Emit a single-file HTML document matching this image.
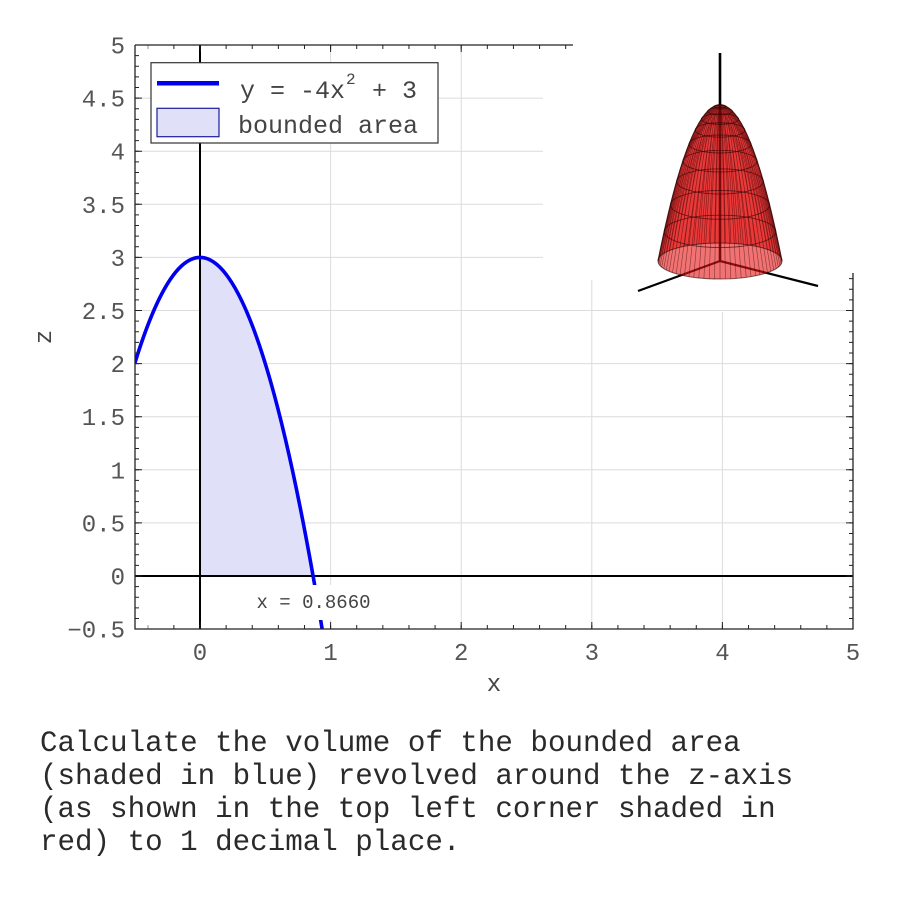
<!DOCTYPE html>
<html><head><meta charset="utf-8"><style>
html,body{margin:0;padding:0;background:#fff;}
svg{display:block;}
text{font-family:"Liberation Mono","DejaVu Sans Mono",monospace;}
</style></head><body>
<svg width="900" height="900" viewBox="0 0 900 900" xmlns="http://www.w3.org/2000/svg">
<rect width="900" height="900" fill="#fff"/>
<!-- gridlines -->
<g stroke="#dcdcdc" stroke-width="1" fill="none">
<path d="M135,98.1H543M135,151.2H543M135,204.3H543M135,257.4H543"/>
<path d="M135,310.5H853M135,363.6H853M135,416.7H853M135,469.8H853M135,522.9H853"/>
<path d="M330.6,45V629M461.2,45V629M591.8,280V629M722.4,312V629"/>
</g>
<!-- fill -->
<path d="M200,576 L200,257.4 Q256.55,257.4 313.1,576 Z" fill="#e0e0f8"/>
<!-- zero lines -->
<path d="M135,576H853M200,45V629" stroke="#000" stroke-width="2" fill="none"/>
<!-- curve -->
<defs><clipPath id="pc"><rect x="135" y="45" width="718" height="584"/></clipPath></defs>
<path d="M134.7,363.6 Q228.4,58.8 322.1,628.8" stroke="#0000ee" stroke-width="3.6" fill="none" clip-path="url(#pc)"/>
<!-- annotation -->
<rect x="252" y="585" width="123" height="35" fill="#fff"/>
<text x="313.5" y="608" font-size="19" fill="#444" text-anchor="middle">x = 0.8660</text>
<!-- spines -->
<g stroke="#222" stroke-width="1.3" fill="none">
<path d="M135,45V629H853V273"/>
<path d="M135,45H573"/>
</g>
<!-- ticks -->
<g stroke="#222" fill="none">
<line x1="147.76" y1="627" x2="853" y2="627" stroke-width="4" stroke-dasharray="1 25.12" stroke-dashoffset="0.5"/>
<line x1="200" y1="625.5" x2="853" y2="625.5" stroke-width="7" stroke-dasharray="1 129.6" stroke-dashoffset="0.5"/>
<line x1="147.76" y1="47" x2="573" y2="47" stroke-width="4" stroke-dasharray="1 25.12" stroke-dashoffset="0.5"/>
<line x1="200" y1="48.5" x2="573" y2="48.5" stroke-width="7" stroke-dasharray="1 129.6" stroke-dashoffset="0.5"/>
<line x1="137" y1="629.1" x2="137" y2="45" stroke-width="4" stroke-dasharray="1 9.62" stroke-dashoffset="0.5"/>
<line x1="138.5" y1="629.1" x2="138.5" y2="45" stroke-width="7" stroke-dasharray="1 52.1" stroke-dashoffset="0.5"/>
<line x1="851" y1="629.1" x2="851" y2="273" stroke-width="4" stroke-dasharray="1 9.62" stroke-dashoffset="0.5"/>
<line x1="849.5" y1="629.1" x2="849.5" y2="273" stroke-width="7" stroke-dasharray="1 52.1" stroke-dashoffset="0.5"/>
</g>
<!-- y tick labels -->
<g font-size="24" fill="#555" text-anchor="end">
<text x="125" y="53.5">5</text>
<text x="125" y="106.6">4.5</text>
<text x="125" y="159.7">4</text>
<text x="125" y="212.8">3.5</text>
<text x="125" y="265.9">3</text>
<text x="125" y="319">2.5</text>
<text x="125" y="372.1">2</text>
<text x="125" y="425.2">1.5</text>
<text x="125" y="478.3">1</text>
<text x="125" y="531.4">0.5</text>
<text x="125" y="584.5">0</text>
<text x="125" y="637.6">−0.5</text>
</g>
<!-- x tick labels -->
<g font-size="24" fill="#555" text-anchor="middle">
<text x="200" y="660">0</text>
<text x="330.6" y="660">1</text>
<text x="461.2" y="660">2</text>
<text x="591.8" y="660">3</text>
<text x="722.4" y="660">4</text>
<text x="853" y="660">5</text>
</g>
<text x="494" y="691" font-size="24" fill="#444" text-anchor="middle">x</text>
<text transform="translate(51,337) rotate(-90)" font-size="24" fill="#444" text-anchor="middle">z</text>
<!-- legend -->
<rect x="151" y="62.7" width="287" height="80.3" fill="#fff" stroke="#333" stroke-width="1.2"/>
<line x1="157" y1="83.3" x2="219" y2="83.3" stroke="#0000ee" stroke-width="4.5"/>
<rect x="157" y="108.3" width="62" height="28.4" fill="#e0e0f8" stroke="#1a1aa0" stroke-width="1.2"/>
<text font-size="25" fill="#444"><tspan x="240" y="98">y = -4x</tspan><tspan x="346" y="84" font-size="16">2</tspan><tspan x="357" y="98"> + 3</tspan></text>
<text x="238" y="133" font-size="25" fill="#444">bounded area</text>
<!-- inset paraboloid -->
<path d="M720,105 Q751,105 782,261 A62,18 0 0 0 658,261 Q689,105 720,105 Z" fill="rgb(230,20,20)" fill-opacity="0.6"/>
<g stroke="#000" fill="none">
<line x1="720" y1="53" x2="720" y2="261" stroke-width="2.6"/>
<line x1="720" y1="261" x2="638" y2="291" stroke-width="2.2"/>
<line x1="720" y1="261" x2="818" y2="286" stroke-width="2.2"/>
</g>
<path d="M720,105 Q751,105 782,261 A62,18 0 0 1 658,261 Q689,105 720,105 Z" fill="rgb(230,20,20)" fill-opacity="0.6"/>
<path fill="none" stroke="rgb(50,0,0)" stroke-opacity="0.55" stroke-width="0.6" d="
M720,105Q751,105 782,261M720,105Q750.5,106.6 781.1,264.1M720,105Q749.1,108.1 778.3,267.2M720,105Q746.8,109.5 773.7,270
M720,105Q743.7,110.8 767.5,272.6M720,105Q739.9,111.9 759.9,274.8M720,105Q735.5,112.8 751,276.6M720,105Q730.6,113.5 741.2,277.9
M720,105Q725.4,113.9 730.8,278.7M720,105Q720,114 720,279M720,105Q714.6,113.9 709.2,278.7M720,105Q709.4,113.5 698.8,277.9
M720,105Q704.5,112.8 689,276.6M720,105Q700.1,111.9 680.1,274.8M720,105Q696.3,110.8 672.5,272.6M720,105Q693.2,109.5 666.3,270
M720,105Q690.9,108.1 661.7,267.2M720,105Q689.5,106.6 658.9,264.1M720,105Q689,105 658,261M720,105Q689.5,103.4 658.9,257.9
M720,105Q690.9,101.9 661.7,254.8M720,105Q693.2,100.5 666.3,252M720,105Q696.3,99.2 672.5,249.4M720,105Q700.1,98.1 680.1,247.2
M720,105Q704.5,97.2 689,245.4M720,105Q709.4,96.5 698.8,244.1M720,105Q714.6,96.1 709.2,243.3M720,105Q720,96 720,243
M720,105Q725.4,96.1 730.8,243.3M720,105Q730.6,96.5 741.2,244.1M720,105Q735.5,97.2 751,245.4M720,105Q739.9,98.1 759.9,247.2
M720,105Q743.7,99.2 767.5,249.4M720,105Q746.8,100.5 773.7,252M720,105Q749.1,101.9 778.3,254.8M720,105Q750.5,103.4 781.1,257.9
M720,105Q750.9,105.8 781.8,262.6M720,105Q749.9,107.3 779.9,265.7M720,105Q748.1,108.8 776.2,268.6M720,105Q745.4,110.2 770.8,271.3
M720,105Q741.9,111.4 763.8,273.7M720,105Q737.8,112.4 755.6,275.7M720,105Q733.1,113.2 746.2,277.3M720,105Q728,113.7 736.1,278.4
M720,105Q722.7,114 725.4,278.9M720,105Q717.3,114 714.6,278.9M720,105Q712,113.7 703.9,278.4M720,105Q706.9,113.2 693.8,277.3
M720,105Q702.2,112.4 684.4,275.7M720,105Q698.1,111.4 676.2,273.7M720,105Q694.6,110.2 669.2,271.3M720,105Q691.9,108.8 663.8,268.6
M720,105Q690.1,107.3 660.1,265.7M720,105Q689.1,105.8 658.2,262.6
M720,105Q689.1,104.2 658.2,259.4M720,105Q690.1,102.7 660.1,256.3M720,105Q691.9,101.2 663.8,253.4M720,105Q694.6,99.8 669.2,250.7
M720,105Q698.1,98.6 676.2,248.3M720,105Q702.2,97.6 684.4,246.3M720,105Q706.9,96.8 693.8,244.7M720,105Q712,96.3 703.9,243.6
M720,105Q717.3,96 714.6,243.1M720,105Q722.7,96 725.4,243.1M720,105Q728,96.3 736.1,243.6M720,105Q733.1,96.8 746.2,244.7
M720,105Q737.8,97.6 755.6,246.3M720,105Q741.9,98.6 763.8,248.3M720,105Q745.4,99.8 770.8,250.7M720,105Q748.1,101.2 776.2,253.4
M720,105Q749.9,102.7 779.9,256.3M720,105Q750.9,104.2 781.8,259.4"/>
<g fill="none" stroke="rgb(40,0,0)" stroke-opacity="0.6" stroke-width="0.9">
<ellipse cx="720" cy="106.56" rx="6.2" ry="1.8"/>
<ellipse cx="720" cy="111.24" rx="12.4" ry="3.6"/>
<ellipse cx="720" cy="119.04" rx="18.6" ry="5.4"/>
<ellipse cx="720" cy="129.96" rx="24.8" ry="7.2"/>
<ellipse cx="720" cy="144" rx="31" ry="9"/>
<ellipse cx="720" cy="161.16" rx="37.2" ry="10.8"/>
<ellipse cx="720" cy="181.44" rx="43.4" ry="12.6"/>
<ellipse cx="720" cy="204.84" rx="49.6" ry="14.4"/>
<ellipse cx="720" cy="231.36" rx="55.8" ry="16.2"/>
<ellipse cx="720" cy="261" rx="62" ry="18" stroke-width="1"/>
</g>
<path d="M720,105 Q751,105 782,261 M720,105 Q689,105 658,261" fill="none" stroke="rgb(40,0,0)" stroke-opacity="0.7" stroke-width="1.1"/>
<!-- bottom text -->
<g font-size="29.2" fill="#2a2a2a">
<text x="40" y="751">Calculate the volume of the bounded area</text>
<text x="40" y="784">(shaded in blue) revolved around the z-axis</text>
<text x="40" y="817">(as shown in the top left corner shaded in</text>
<text x="40" y="850">red) to 1 decimal place.</text>
</g>
</svg>
</body></html>
